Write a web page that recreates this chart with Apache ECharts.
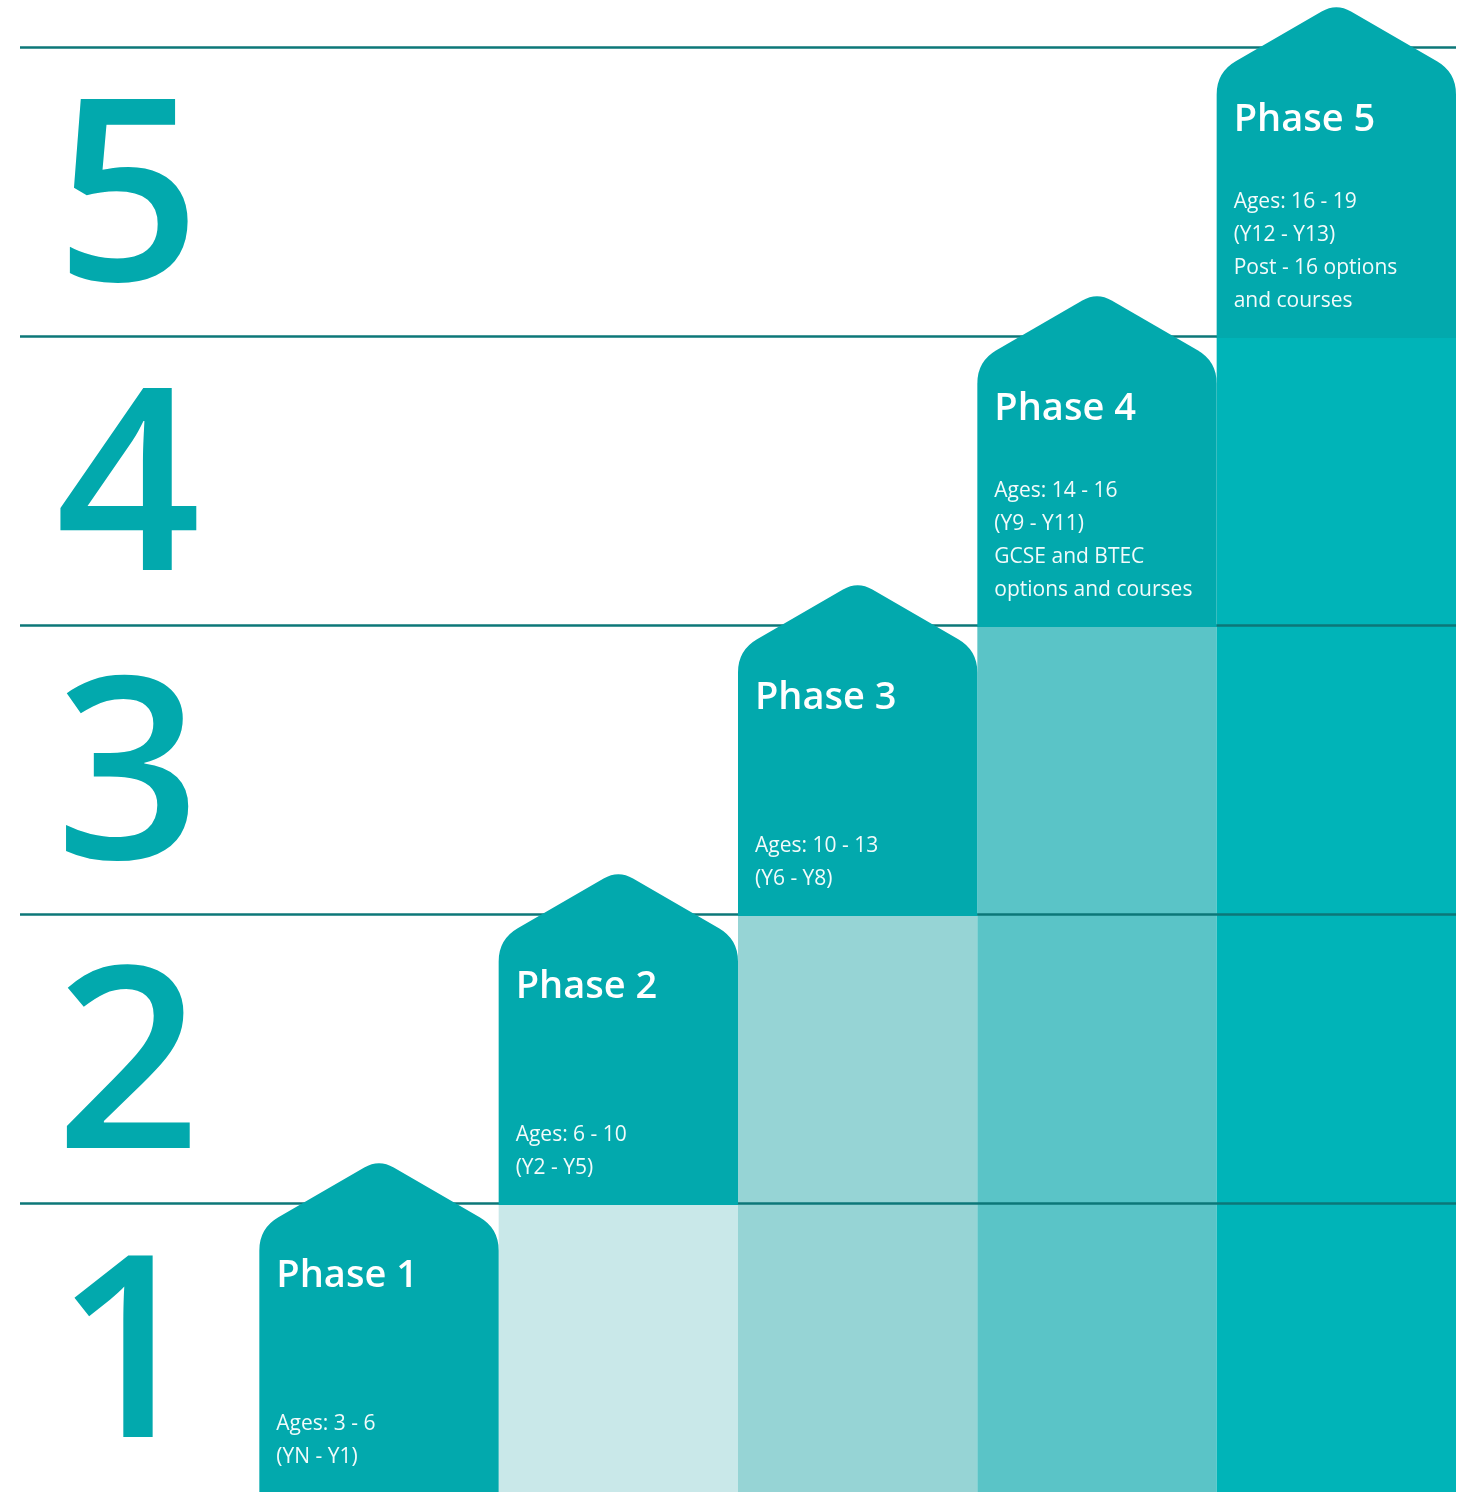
<!DOCTYPE html>
<html>
<head>
<meta charset="utf-8">
<title>Phases</title>
<script src="https://cdn.jsdelivr.net/npm/echarts@6/dist/echarts.min.js"></script>
<style>
  html, body { margin: 0; padding: 0; background: #fff; }
  #chart { width: 1465px; height: 1492px; }
</style>
</head>
<body>
<div id="chart"></div>
<script>
// data
const levels = ["1", "2", "3", "4", "5"];
const columns = ["", "Phase 1", "Phase 2", "Phase 3", "Phase 4", "Phase 5"];
const phaseLevel = [1, 2, 3, 4, 5];
const baseValues = [0, 0, 1, 2, 3, 4];
const phaseDetails = [
  ["Ages: 3 - 6", "(YN - Y1)"],
  ["Ages: 6 - 10", "(Y2 - Y5)"],
  ["Ages: 10 - 13", "(Y6 - Y8)"],
  ["Ages: 14 - 16", "(Y9 - Y11)", "GCSE and BTEC", "options and courses"],
  ["Ages: 16 - 19", "(Y12 - Y13)", "Post - 16 options", "and courses"],
];

// styles
const teal = "#02a9ad";
const lineColor = "#0c7778";
const baseColors = ["#ffffff", "#ffffff", "#c9e8e9", "#96d4d5", "#5ac4c7", "#00b4b8"];
const font = "'Open Sans', 'Noto Sans', sans-serif";

const chart = echarts.init(document.getElementById("chart"));

// house shape: body from level-1 to level, pointed roof above level
const renderHouse = (params, api) => {
  const cat = api.value(0);
  const lvl = api.value(1);
  const top = api.coord([cat, lvl]);
  const bot = api.coord([cat, lvl - 1]);
  const w = api.size([1, 0])[0];
  const x0 = top[0] - w / 2;
  const x1 = top[0] + w / 2;
  const cx = top[0];
  const ya = top[1] - 44; // roof apex
  const slope = 0.58;
  const yc = ya + slope * (w / 2); // roof corner
  const r = 22;
  const ra = 17;
  const ux = 1 / Math.sqrt(1 + slope * slope);
  const uy = slope * ux;
  const path = [
    "M", x0, bot[1] + 2,
    "L", x0, yc + r,
    "Q", x0, yc, x0 + r * ux, yc - r * uy,
    "L", cx - ra * ux, ya + ra * uy,
    "Q", cx, ya, cx + ra * ux, ya + ra * uy,
    "L", x1 - r * ux, yc - r * uy,
    "Q", x1, yc, x1, yc + r,
    "L", x1, bot[1] + 2,
    "Z",
  ].join(" ");
  const idx = params.dataIndex;
  return {
    type: "group",
    children: [
      {
        type: "path",
        shape: { pathData: path },
        style: { fill: teal },
      },
      {
        type: "text",
        style: {
          text: columns[cat],
          x: x0 + 17,
          y: top[1] + 73,
          fill: "#ffffff",
          fontSize: 38,
          fontWeight: 600,
          fontFamily: font,
          textAlign: "left",
          textVerticalAlign: "middle",
        },
      },
      {
        type: "text",
        style: {
          text: phaseDetails[idx].join("\n"),
          x: x0 + 17,
          y: bot[1] - 18,
          fill: "#f2fbfb",
          fontSize: 21,
          lineHeight: 33,
          fontFamily: font,
          textAlign: "left",
          textVerticalAlign: "bottom",
        },
      },
    ],
  };
};

const option = {
  animation: false,
  grid: { left: 20, top: 47, width: 1436, height: 1446 },
  xAxis: {
    type: "category",
    data: columns,
    boundaryGap: true,
    axisLine: { show: false },
    axisTick: { show: false },
    axisLabel: { show: false },
  },
  yAxis: [
    {
      type: "value",
      min: 0,
      max: 5,
      interval: 1,
      z: 3,
      axisLine: { show: false },
      axisTick: { show: false },
      axisLabel: { show: false },
      splitLine: {
        show: true,
        showMinLine: false,
        lineStyle: { color: lineColor, width: 2.5 },
      },
    },
    {
      type: "category",
      data: levels,
      position: "left",
      axisLine: { show: false },
      axisTick: { show: false },
      splitLine: { show: false },
      axisLabel: {
        interval: 0,
        inside: true,
        margin: 108,
        align: "center",
        verticalAlign: "top",
        lineHeight: 34,
        color: teal,
        fontSize: 254,
        fontWeight: 600,
        fontFamily: font,
      },
    },
  ],
  series: [
    {
      type: "bar",
      z: 2,
      barWidth: "100%",
      silent: true,
      data: baseValues.map((v, i) => ({ value: v, itemStyle: { color: baseColors[i] } })),
    },
    {
      type: "custom",
      z: 4,
      silent: true,
      renderItem: renderHouse,
      data: phaseLevel.map((lvl) => [lvl, lvl]),
    },
  ],
};
chart.setOption(option);
</script>
</body>
</html>
